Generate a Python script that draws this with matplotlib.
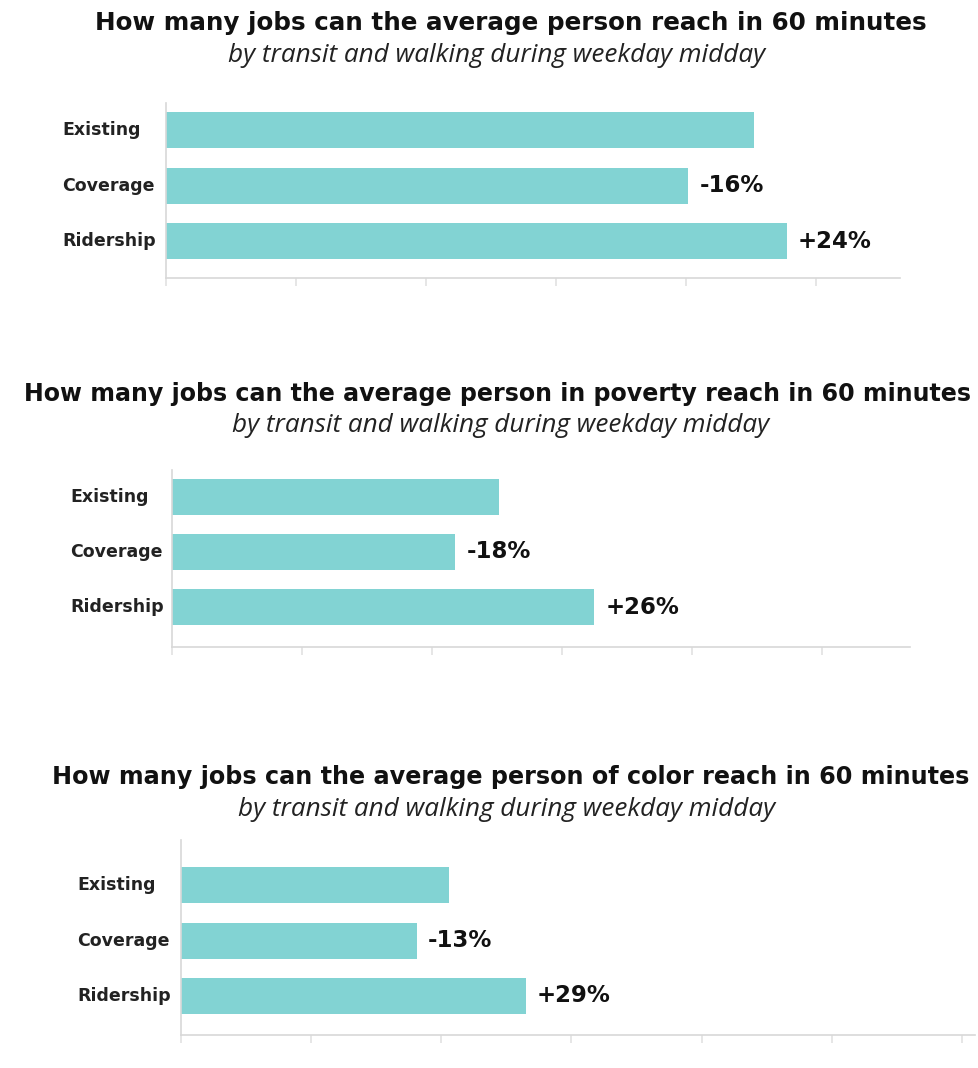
import matplotlib
matplotlib.use("Agg")
import matplotlib.pyplot as plt
from matplotlib.transforms import blended_transform_factory

# ---- data ----
categories = ["Existing", "Coverage", "Ridership"]
titles = [
    "How many jobs can the average person reach in 60 minutes",
    "How many jobs can the average person in poverty reach in 60 minutes",
    "How many jobs can the average person of color reach in 60 minutes",
]
subtitle = "by transit and walking during weekday midday"
# bar lengths (arbitrary units; axis tick every 1 unit)
values_all = [4.53, 4.02, 4.78]
values_poverty = [2.52, 2.18, 3.25]
values_color = [2.06, 1.81, 2.65]
changes_all = ["", "-16%", "+24%"]
changes_poverty = ["", "-18%", "+26%"]
changes_color = ["", "-13%", "+29%"]

W, H = 979, 1068
fig = plt.figure(figsize=(W / 100, H / 100), dpi=100)
fig.patch.set_facecolor("white")
renderer = fig.canvas.get_renderer()

BAR = "#82d3d3"
SPINE = "#d8d8d8"
BOLD = "DejaVu Sans"
ITAL = "Open Sans"


def fit(t, target_px):
    wpx = t.get_window_extent(renderer=renderer).width
    t.set_fontsize(t.get_fontsize() * target_px / wpx)


panels = [
    dict(vals=values_all, ch=changes_all, title=titles[0],
         left=166, right=900, top=103, base=278, c0=130, step=55.5,
         title_y=23, title_x=511, title_w=833, sub_y=56, sub_x=497,
         lab_x=62, xmax=5.65),
    dict(vals=values_poverty, ch=changes_poverty, title=titles[1],
         left=172, right=910, top=470, base=647, c0=497, step=55,
         title_y=394, title_x=498, title_w=953, sub_y=426, sub_x=501,
         lab_x=70, xmax=5.68),
    dict(vals=values_color, ch=changes_color, title=titles[2],
         left=181, right=975, top=840, base=1035, c0=885, step=55.5,
         title_y=777, title_x=511, title_w=922, sub_y=810, sub_x=507,
         lab_x=77, xmax=6.1),
]

for p in panels:
    l = p["left"] / W
    b = 1 - p["base"] / H
    w = (p["right"] - p["left"]) / W
    h = (p["base"] - p["top"]) / H
    ax = fig.add_axes([l, b, w, h])
    ypos = list(range(len(categories)))
    ax.barh(ypos, p["vals"], height=36 / p["step"], color=BAR, edgecolor="none")
    ytop = -(p["c0"] - p["top"]) / p["step"]
    ybot = (p["base"] - p["c0"]) / p["step"]
    ax.set_ylim(ybot, ytop)
    ax.set_xlim(0, p["xmax"])
    for s in ["top", "right"]:
        ax.spines[s].set_visible(False)
    for s in ["left", "bottom"]:
        ax.spines[s].set_color(SPINE)
        ax.spines[s].set_linewidth(1.2)
    ax.set_yticks([])
    ax.set_xticks([t for t in range(0, int(p["xmax"]) + 1)])
    ax.set_xticklabels([])
    ax.tick_params(axis="x", length=6, width=1.2, color="#e2e2e2")
    tr = blended_transform_factory(fig.transFigure, ax.transData)
    for y, c in zip(ypos, categories):
        fig.text(p["lab_x"] / W, y, c, transform=tr, ha="left", va="center",
                 fontsize=12.5, fontweight="bold", color="#222222",
                 family=BOLD)
    for y, v, c in zip(ypos, p["vals"], p["ch"]):
        if c:
            ax.annotate(c, (v, y), xytext=(8, 0), textcoords="offset points",
                        ha="left", va="center", fontsize=16.5, fontweight="bold",
                        color="#111111", family=BOLD)
    t = fig.text(p["title_x"] / W, 1 - p["title_y"] / H, p["title"], ha="center",
                 va="center", fontsize=16, fontweight="bold", color="#111111",
                 family=BOLD)
    fit(t, p["title_w"])
    s = fig.text(p["sub_x"] / W, 1 - p["sub_y"] / H, subtitle, ha="center",
                 va="center", fontsize=14, style="italic", color="#222222",
                 family=ITAL)
    fit(s, 540)

fig.savefig("out.png", dpi=100, facecolor="white")
